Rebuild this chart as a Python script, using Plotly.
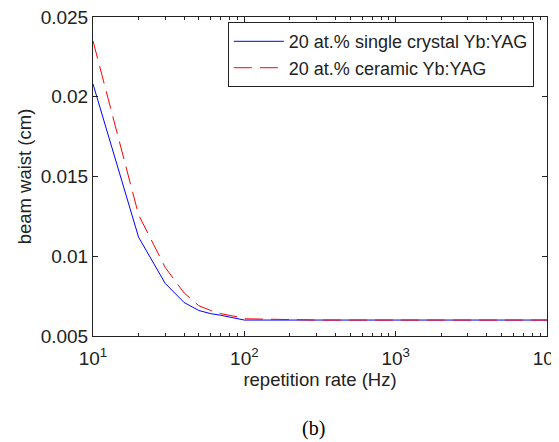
import plotly.graph_objects as go

rep_rate = [10, 20, 30, 40, 50, 60, 70, 80, 90, 100,
            200, 300, 400, 500, 600, 700, 800, 900, 1000,
            2000, 3000, 4000, 5000, 6000, 7000, 8000, 9000, 10000]
waist_single = [0.0208, 0.0112, 0.0083, 0.0071, 0.0066, 0.0064, 0.0063, 0.0062, 0.00612, 0.0060,
                0.0060, 0.0060, 0.0060, 0.0060, 0.0060, 0.0060, 0.0060, 0.0060, 0.0060,
                0.0060, 0.0060, 0.0060, 0.0060, 0.0060, 0.0060, 0.0060, 0.0060, 0.0060]
waist_ceramic = [0.0235, 0.0126, 0.0093, 0.0077, 0.0069, 0.0066, 0.0064, 0.0063, 0.0062, 0.00608,
                 0.0060, 0.0060, 0.0060, 0.0060, 0.0060, 0.0060, 0.0060, 0.0060, 0.0060,
                 0.0060, 0.0060, 0.0060, 0.0060, 0.0060, 0.0060, 0.0060, 0.0060, 0.0060]
x_tickvals = [10, 100, 1000, 10000]
x_ticktext = ["10<sup>1</sup>", "10<sup>2</sup>", "10<sup>3</sup>", "10<sup>4</sup>"]
y_tickvals = [0.005, 0.01, 0.015, 0.02, 0.025]
y_ticktext = ["0.005", "0.01", "0.015", "0.02", "0.025"]

FONT = "Liberation Sans, Arial, sans-serif"
TXT = "#222222"

fig = go.Figure()
fig.add_trace(go.Scatter(x=rep_rate, y=waist_single, mode="lines",
                         name="20 at.% single crystal Yb:YAG",
                         line=dict(color="#0000ff", width=1)))
fig.add_trace(go.Scatter(x=rep_rate, y=waist_ceramic, mode="lines",
                         name="20 at.% ceramic Yb:YAG",
                         line=dict(color="#ff0000", width=1, dash="18px,8px")))

axis_common = dict(showline=True, linecolor=TXT, linewidth=1, mirror="ticks",
                   ticks="inside", ticklen=5, tickcolor=TXT, showgrid=False,
                   zeroline=False, automargin=False, ticklabeloverflow="allow",
                   tickfont=dict(family=FONT, size=19, color=TXT))

fig.update_xaxes(type="log", range=[1, 4.000001], tickvals=x_tickvals, ticktext=x_ticktext,
                 ticklabelstandoff=5,
                 minor=dict(ticks="inside", ticklen=3, tickcolor=TXT, dtick="D1"),
                 title=dict(text="repetition rate (Hz)", font=dict(family=FONT, size=18.5, color=TXT),
                            standoff=3),
                 **axis_common)
fig.update_yaxes(range=[0.005, 0.025], tickvals=y_tickvals, ticktext=y_ticktext,
                 title=dict(text="beam waist (cm)", font=dict(family=FONT, size=18.5, color=TXT),
                            standoff=4),
                 **axis_common)

# page body adds an 8px offset; figure is sized/margined to compensate
fig.update_layout(
    width=551, height=434,
    margin=dict(l=85, r=12, t=9, b=106),
    paper_bgcolor="white", plot_bgcolor="white",
    font=dict(family=FONT, size=18, color=TXT),
    legend=dict(x=0.297, y=0.984, xanchor="left", yanchor="top",
                bordercolor=TXT, borderwidth=1, bgcolor="white",
                font=dict(family=FONT, size=18, color=TXT),
                tracegroupgap=0, itemwidth=50),
    showlegend=True,
)
fig.add_annotation(text="(b)", xref="paper", yref="paper", x=0.485, y=-0.29,
                   xanchor="center", yanchor="middle", showarrow=False,
                   font=dict(family="Liberation Serif, Times New Roman, serif", size=20, color="#000000"))

fig.write_html("out.html")
